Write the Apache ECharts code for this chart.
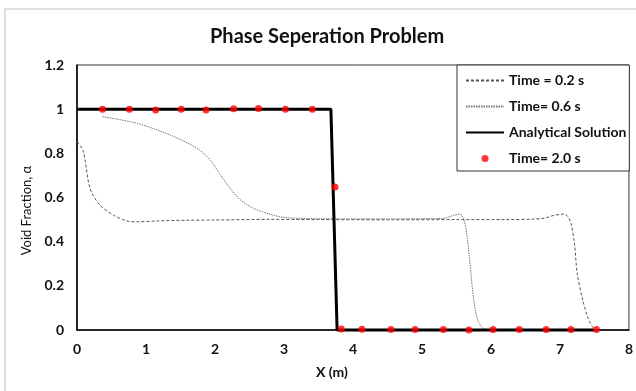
<!DOCTYPE html>
<html>
<head>
<meta charset="utf-8">
<script src="https://cdn.jsdelivr.net/npm/echarts@6/dist/echarts.min.js"></script>
<style>
  html, body { margin: 0; padding: 0; background: #fff; }
  #chart { width: 636px; height: 391px; }
</style>
</head>
<body>
<div id="chart"></div>
<script>
// x (m), void fraction
const time02 = [
  [0, 0.853], [0.09, 0.81], [0.19, 0.64], [0.33, 0.566], [0.53, 0.52],
  [0.72, 0.494], [0.87, 0.49], [1.16, 0.494], [1.6, 0.497], [2.0, 0.498],
  [2.8, 0.501], [3.5, 0.5], [4.5, 0.499], [5.5, 0.5], [6.2, 0.5],
  [6.6, 0.502], [6.77, 0.506], [6.9, 0.518], [7.06, 0.525], [7.12, 0.512],
  [7.16, 0.483], [7.21, 0.393], [7.25, 0.257], [7.33, 0.136], [7.4, 0.06],
  [7.46, 0.02], [7.5, 0.005],
];
const time06 = [
  [0.37, 0.966], [0.87, 0.936], [1.35, 0.883], [1.74, 0.823], [1.93, 0.77],
  [2.08, 0.702], [2.22, 0.642], [2.37, 0.589], [2.56, 0.551], [2.8, 0.524],
  [3.0, 0.51], [3.3, 0.505], [4.0, 0.503], [4.6, 0.503], [5.0, 0.504],
  [5.32, 0.506], [5.45, 0.518], [5.55, 0.525], [5.61, 0.498], [5.66, 0.408],
  [5.71, 0.257], [5.75, 0.136], [5.8, 0.053], [5.86, 0.015], [5.92, 0.002],
];
const analytical = [[0, 1], [3.68, 1], [3.77, 0], [7.5, 0]];
const time20X = [
  0.37, 0.76, 1.14, 1.51, 1.87, 2.27, 2.63, 3.02, 3.41, 3.74,
  3.83, 4.13, 4.55, 4.9, 5.31, 5.68, 6.03, 6.41, 6.8, 7.16, 7.53,
];
const time20Y = [
  1, 1, 0.996, 1, 0.996, 1.002, 1.003, 1, 1, 0.648,
  0.005, 0.003, 0.002, 0.002, 0.002, 0, 0.002, 0.002, 0.002, 0.002, 0.002,
];
const seriesNames = ["Time = 0.2 s", "Time= 0.6 s", "Analytical Solution", "Time= 2.0 s"];

const font = "Lato, 'Open Sans', sans-serif";
const chart = echarts.init(document.getElementById("chart"), null, { renderer: "canvas" });

// line entries in the legend should show only the line, no marker
const lineOnly = { itemStyle: { opacity: 0 } };

chart.setOption({
  animation: false,
  backgroundColor: "#fff",
  textStyle: { fontFamily: font },
  title: {
    text: "Phase Seperation Problem",
    left: 205,
    top: 22,
    textStyle: { fontFamily: font, fontSize: 20, fontWeight: "bold", color: "#111" },
  },
  graphic: [
    {
      type: "rect",
      shape: { x: 5, y: 9, width: 640, height: 400 },
      style: { fill: "none", stroke: "#d6d6d6", lineWidth: 1.5 },
      silent: true,
    },
  ],
  grid: {
    left: 77, right: 7, top: 65, bottom: 61,
    show: true, borderColor: "#333", borderWidth: 1,
  },
  legend: {
    data: [
      { name: seriesNames[0], ...lineOnly },
      { name: seriesNames[1], ...lineOnly },
      { name: seriesNames[2], ...lineOnly },
      { name: seriesNames[3] },
    ],
    orient: "vertical",
    left: 457,
    top: 65,
    padding: [7, 3, 4, 8],
    itemGap: 9,
    itemWidth: 38,
    itemHeight: 7,
    backgroundColor: "#fff",
    borderColor: "#333",
    borderWidth: 1,
    textStyle: { fontFamily: font, fontSize: 14, lineHeight: 17, fontWeight: "bold", color: "#111" },
  },
  xAxis: {
    type: "value",
    min: 0, max: 8, interval: 1,
    name: "X (m)",
    nameLocation: "middle",
    nameGap: 35,
    nameTextStyle: { fontFamily: font, fontSize: 14, fontWeight: "bold", color: "#111", padding: [0, 42, 0, 0] },
    axisLine: { lineStyle: { color: "#000", width: 1.5 } },
    axisTick: { show: false },
    splitLine: { show: false },
    axisLabel: { margin: 12, fontFamily: font, fontSize: 14, fontWeight: "bold", color: "#111" },
  },
  yAxis: {
    type: "value",
    min: 0, max: 1.2, interval: 0.2,
    name: "Void Fraction, α",
    nameLocation: "middle",
    nameGap: 42,
    nameTextStyle: { fontFamily: font, fontSize: 13, color: "#111", padding: [0, 26, 0, 0] },
    axisLine: { show: true, lineStyle: { color: "#000", width: 1.5 } },
    axisTick: { show: false },
    splitLine: { show: false },
    axisLabel: { margin: 13, fontFamily: font, fontSize: 14, fontWeight: "bold", color: "#111" },
  },
  series: [
    {
      name: seriesNames[0],
      type: "line",
      data: time02,
      symbol: "none",
      smooth: 0.3,
      clip: false,
      lineStyle: { color: "#555", width: 1, type: [3, 2] },
      itemStyle: { color: "#555" },
    },
    {
      name: seriesNames[1],
      type: "line",
      data: time06,
      symbol: "none",
      smooth: 0.3,
      clip: false,
      lineStyle: { color: "#777", width: 1, type: [1.5, 1] },
      itemStyle: { color: "#777" },
    },
    {
      name: seriesNames[2],
      type: "line",
      data: analytical,
      symbol: "none",
      clip: false,
      lineStyle: { color: "#000", width: 3 },
      itemStyle: { color: "#000" },
    },
    {
      name: seriesNames[3],
      type: "scatter",
      data: time20X.map((x, i) => [x, time20Y[i]]),
      symbol: "circle",
      symbolSize: 7,
      clip: false,
      z: 5,
      itemStyle: { color: "#ff0000" },
    },
  ],
});
</script>
</body>
</html>
